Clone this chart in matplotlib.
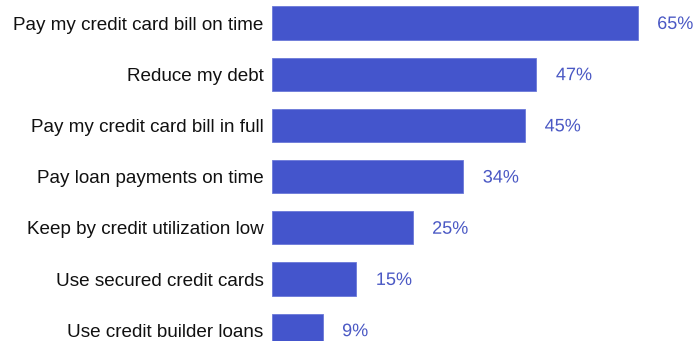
import matplotlib.pyplot as plt
import matplotlib.patheffects as pe

# Share of respondents per credit-building habit
habits = [
    'Pay my credit card bill on time',
    'Reduce my debt',
    'Pay my credit card bill in full',
    'Pay loan payments on time',
    'Keep by credit utilization low',
    'Use secured credit cards',
    'Use credit builder loans',
]
shares = [65, 47, 45, 34, 25, 15, 9]

bar_color = '#4455cc'
label_color = '#4a58c4'

plt.rcParams['font.family'] = ['Liberation Sans', 'DejaVu Sans']

fig = plt.figure(figsize=(6.94, 3.41), dpi=100)
ax = fig.add_axes([0.392, 0.0, 0.608, 1.0])

ypos = list(range(len(habits)))
ax.barh(ypos, shares, height=0.65, color=bar_color, edgecolor='#6b78d8', linewidth=0.6)

for y, v in zip(ypos, shares):
    ax.annotate(f'{v}%', xy=(v, y), xytext=(14, -1), textcoords='offset points',
                va='center', ha='left', fontsize=13, color=label_color,
                path_effects=[pe.withStroke(linewidth=2.5, foreground='white')])

ax.set_yticks(ypos)
ax.set_yticklabels(habits, fontsize=13.6, color='#111111')
ax.tick_params(axis='y', length=0, pad=6)
ax.set_xticks([])
ax.set_xlim(0, 75)
ax.set_ylim(6.21, -0.45)
for s in ax.spines.values():
    s.set_visible(False)

fig.savefig('out.png', dpi=100)
